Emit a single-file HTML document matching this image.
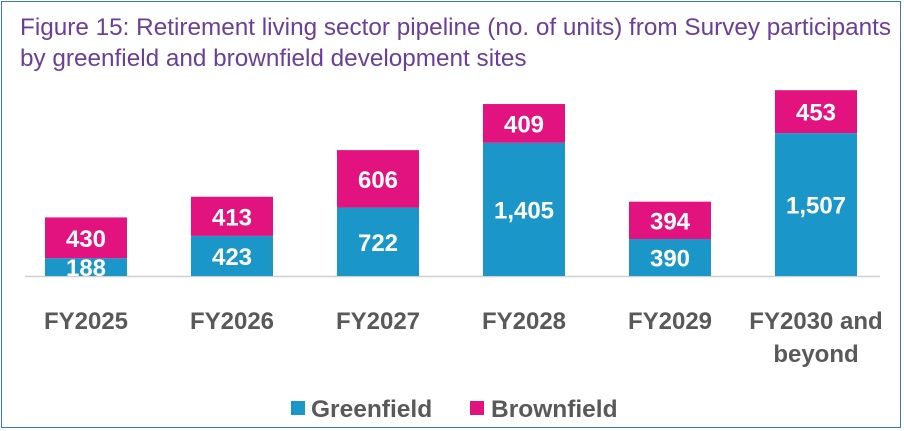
<!DOCTYPE html>
<html><head><meta charset="utf-8"><style>
html,body{margin:0;padding:0;background:#fff;}
body{width:904px;height:431px;overflow:hidden;position:relative;font-family:"Liberation Sans",sans-serif;}
#frame{position:absolute;left:1px;top:1px;width:900px;height:427px;border:1.5px solid #3b7f9c;box-sizing:border-box;}
.title{position:absolute;left:20px;font-size:24.3px;color:#6b3e98;white-space:nowrap;}
</style></head><body>
<div id="frame"></div>
<div class="title" style="top:14px">Figure 15: Retirement living sector pipeline (no. of units) from Survey participants</div>
<div class="title" style="top:45px">by greenfield and brownfield development sites</div>
<svg id="chart" width="904" height="431" style="position:absolute;left:0;top:0"></svg>
<script>
const categories=[["FY2025"],["FY2026"],["FY2027"],["FY2028"],["FY2029"],["FY2030 and","beyond"]];
const greenfield=[188,423,722,1405,390,1507];
const brownfield=[430,413,606,409,394,453];
const labelsG=["188","423","722","1,405","390","1,507"];
const labelsB=["430","413","606","409","394","453"];
const NS="http://www.w3.org/2000/svg";
const svg=document.getElementById('chart');
const baseY=276, scale=0.0948, x0=45, step=146, bw=82;
const F='Liberation Sans, sans-serif';
function yScale(v){return baseY-v*scale;}
function xScale(i){return x0+i*step;}
function mk(t,a){const e=document.createElementNS(NS,t);for(const k in a)e.setAttribute(k,a[k]);svg.appendChild(e);return e;}
const axis=mk('line',{x1:25,x2:880,y1:baseY+0.5,y2:baseY+0.5,stroke:'#d0d0d0','stroke-width':1.5});


categories.forEach((c,i)=>{
  const x=xScale(i);
  const gTop=yScale(greenfield[i]);
  const bTop=yScale(greenfield[i]+brownfield[i]);
  const g=mk('rect',{x:x,y:gTop,width:bw,height:baseY-gTop,fill:'#1a96c8'});
  
  
  const b=mk('rect',{x:x,y:bTop,width:bw,height:gTop-bTop,fill:'#e2137f'});
  
  
  const gl=mk('text',{x:x+bw/2,y:Math.min((gTop+baseY)/2+9,baseY+5),'text-anchor':'middle',fill:'#fff','font-size':24,'font-weight':'bold','font-family':F});
  gl.textContent=labelsG[i];
  
  
  const bl=mk('text',{x:x+bw/2,y:(bTop+gTop)/2+9,'text-anchor':'middle',fill:'#fff','font-size':24,'font-weight':'bold','font-family':F});
  bl.textContent=labelsB[i];
  
  
  c.forEach((line,j)=>{
    const t=mk('text',{x:x+bw/2,y:329+j*33,'text-anchor':'middle',fill:'#595959','font-size':24,'font-weight':'bold','font-family':F});
    t.textContent=line;
    
    
  });
});
const lg1=mk('rect',{x:291,y:401,width:14,height:14,fill:'#1a96c8'});


const lt1=mk('text',{x:311,y:417,fill:'#595959','font-size':24.5,'font-weight':'bold','font-family':F});
lt1.textContent='Greenfield';


const lg2=mk('rect',{x:470,y:401,width:14,height:14,fill:'#e2137f'});


const lt2=mk('text',{x:491,y:417,fill:'#595959','font-size':24.5,'font-weight':'bold','font-family':F});
lt2.textContent='Brownfield';


</script>
</body></html>
